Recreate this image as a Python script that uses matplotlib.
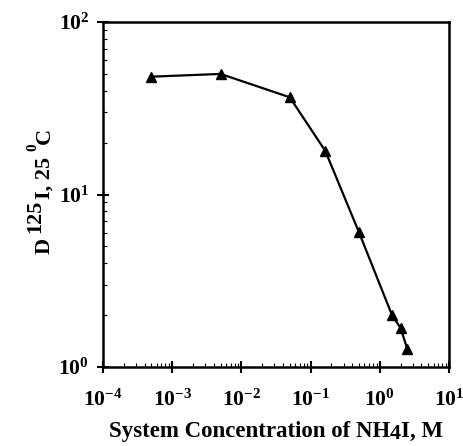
import matplotlib
matplotlib.use("Agg")
import matplotlib.pyplot as plt
from matplotlib.ticker import LogLocator, NullFormatter
from matplotlib.transforms import IdentityTransform

conc = [5e-4, 5e-3, 0.05, 0.163, 0.5, 1.5, 2.0, 2.5]
D = [48.2, 50.0, 36.6, 17.9, 6.04, 2.0, 1.68, 1.27]
xticks = [1e-4, 1e-3, 1e-2, 1e-1, 1e0, 1e1]
xticklabels = [r"$\mathbf{10^{-4}}$", r"$\mathbf{10^{-3}}$", r"$\mathbf{10^{-2}}$",
               r"$\mathbf{10^{-1}}$", r"$\mathbf{10^{0}}$", r"$\mathbf{10^{1}}$"]
yticks = [1, 10, 100]
yticklabels = [r"$\mathbf{10^{0}}$", r"$\mathbf{10^{1}}$", r"$\mathbf{10^{2}}$"]
xlabel_parts = [("System Concentration of NH", 16.5, 0), ("4", 16, -2), ("I, M", 16.5, 0)]
ylabel_parts = [("D ", 16, 0), ("125", 16, 10), ("I, 25 ", 16, 0), ("0", 11, 14), ("C", 16, 0)]

plt.rcParams['font.family'] = ['Liberation Serif', 'DejaVu Serif']
plt.rcParams['mathtext.fontset'] = 'custom'
plt.rcParams['mathtext.rm'] = 'Liberation Serif'
plt.rcParams['mathtext.bf'] = 'Liberation Serif:bold'
plt.rcParams['mathtext.it'] = 'Liberation Serif:italic'

W, H = 464, 446
fig = plt.figure(figsize=(W/100, H/100), dpi=100)
ax = fig.add_axes([103/W, 1-367/H, 346/W, 345/H])
ax.plot(conc, D, color='black', lw=1.6, marker='^', ms=7)
ax.set_xscale('log')
ax.set_yscale('log')
ax.set_xlim(1e-4, 10)
ax.set_ylim(1, 100)
ax.set_xticks(xticks)
ax.set_xticklabels(xticklabels, fontsize=15.5)
ax.set_yticks(yticks)
ax.set_yticklabels(yticklabels, fontsize=15.5)
ax.xaxis.set_minor_locator(LogLocator(base=10, subs=range(2, 10)))
ax.yaxis.set_minor_locator(LogLocator(base=10, subs=range(2, 10)))
ax.xaxis.set_minor_formatter(NullFormatter())
ax.yaxis.set_minor_formatter(NullFormatter())
ax.tick_params(which='major', direction='inout', length=8, width=1.5)
ax.tick_params(axis='x', which='major', pad=12)
ax.tick_params(axis='y', which='major', pad=6)
ax.tick_params(which='minor', direction='in', length=3, width=0.8)
for s in ax.spines.values():
    s.set_linewidth(1.8)

fig.canvas.draw()
renderer = fig.canvas.get_renderer()

def width(s, size):
    t1 = fig.text(0, 0, "x" + s + "x", fontsize=size, fontweight='bold')
    t2 = fig.text(0, 0, "xx", fontsize=size, fontweight='bold')
    w = t1.get_window_extent(renderer).width - t2.get_window_extent(renderer).width
    t1.remove(); t2.remove()
    return w

tr = IdentityTransform()
ws = [width(s, sz) for s, sz, _ in xlabel_parts]
x0 = 276 - sum(ws) / 2
base_y = H - 437
for (s, sz, dy), w in zip(xlabel_parts, ws):
    fig.text(x0, base_y + dy, s, fontsize=sz, fontweight='bold', transform=tr,
             ha='left', va='baseline')
    x0 += w

ws = [width(s, sz) for s, sz, _ in ylabel_parts]
y0 = (H - 191) - sum(ws) / 2
base_x = 50
for (s, sz, dx), w in zip(ylabel_parts, ws):
    fig.text(base_x - dx, y0, s, fontsize=sz, fontweight='bold', transform=tr,
             ha='left', va='baseline', rotation=90, rotation_mode='anchor')
    y0 += w

fig.savefig("out.png", dpi=100)
